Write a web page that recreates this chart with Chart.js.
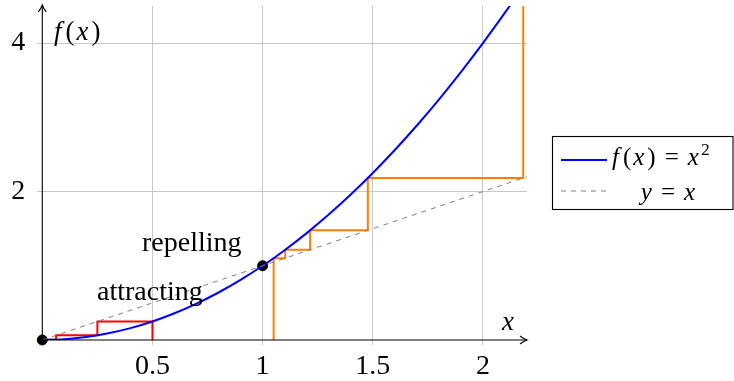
<!DOCTYPE html>
<html>
<head>
<meta charset="utf-8">
<script src="https://cdn.jsdelivr.net/npm/chart.js@4"></script>
<style>
  html, body { margin: 0; padding: 0; background: #fff; }
  #wrap { width: 734px; height: 381px; }
</style>
</head>
<body>
<div id="wrap"><canvas id="cobweb" width="734" height="381"></canvas></div>
<script>
// Curve f(x) = x^2
const curveX = [0, 0.1, 0.2, 0.3, 0.4, 0.5, 0.6, 0.7, 0.8, 0.9, 1, 1.1, 1.2, 1.3, 1.4, 1.5, 1.6, 1.7, 1.8, 1.9, 2, 2.1, 2.2];
const curveY = [0, 0.01, 0.04, 0.09, 0.16, 0.25, 0.36, 0.49, 0.64, 0.81, 1, 1.21, 1.44, 1.69, 1.96, 2.25, 2.56, 2.89, 3.24, 3.61, 4, 4.41, 4.84];

// Identity line y = x
const diagX = [0, 2.2];
const diagY = [0, 2.2];

// Cobweb starting at 0.5 (attracting)
const redX = [0.5, 0.5, 0.25, 0.25, 0.0625, 0.0625, 0.004];
const redY = [0, 0.25, 0.25, 0.0625, 0.0625, 0.004, 0.004];

// Cobweb starting at 1.05 (repelling)
const orangeX = [1.05, 1.05, 1.1025, 1.1025, 1.2155, 1.2155, 1.4775, 1.4775, 2.183, 2.183];
const orangeY = [0, 1.1025, 1.1025, 1.2155, 1.2155, 1.4775, 1.4775, 2.183, 2.183, 4.766];

// Fixed points
const fixedX = [0, 1];
const fixedY = [0, 1];

// Tick labels
const xTicks = [0.5, 1, 1.5, 2];
const yTicks = [2, 4];

const FONT = "'Liberation Serif', 'DejaVu Serif', serif";

const toPoints = (xs, ys) => xs.map((x, i) => ({ x: x, y: ys[i] }));

// Draw text made of upright / italic / superscript pieces (gap = extra space after)
function drawRuns(ctx, runs, x, y, size) {
    ctx.textBaseline = "alphabetic";
    ctx.textAlign = "left";
    runs.forEach(r => {
        const s = r.sup ? size * 0.7 : size;
        ctx.font = (r.it ? "italic " : "") + s + "px " + FONT;
        ctx.fillText(r.t, x, r.sup ? y - size * 0.4 : y);
        x += ctx.measureText(r.t).width + (r.gap || 0);
    });
    return x;
}

function runsWidth(ctx, runs, size) {
    let w = 0;
    runs.forEach(r => {
        const s = r.sup ? size * 0.7 : size;
        ctx.font = (r.it ? "italic " : "") + s + "px " + FONT;
        w += ctx.measureText(r.t).width + (r.gap || 0);
    });
    return w;
}

// Axes with arrow heads, labels, legend box
const decorations = {
    id: "decorations",
    afterDatasetsDraw(chart) {
        const ctx = chart.ctx;
        const xs = chart.scales.x;
        const ys = chart.scales.y;
        const x0 = xs.getPixelForValue(0);
        const y0 = ys.getPixelForValue(0);
        const right = xs.right;
        const top = ys.top - 1;

        ctx.save();
        ctx.strokeStyle = "#000";
        ctx.lineWidth = 1.1;
        ctx.beginPath();
        ctx.moveTo(x0, y0);
        ctx.lineTo(right, y0);
        ctx.moveTo(x0, y0);
        ctx.lineTo(x0, top);
        ctx.stroke();

        // arrow heads
        ctx.beginPath();
        ctx.moveTo(right - 7, y0 - 4);
        ctx.quadraticCurveTo(right - 3, y0 - 1, right, y0);
        ctx.quadraticCurveTo(right - 3, y0 + 1, right - 7, y0 + 4);
        ctx.moveTo(x0 - 4, top + 7);
        ctx.quadraticCurveTo(x0 - 1, top + 3, x0, top);
        ctx.quadraticCurveTo(x0 + 1, top + 3, x0 + 4, top + 7);
        ctx.stroke();

        ctx.fillStyle = "#000";
        // axis labels
        drawRuns(ctx, [{ t: "f", it: true, gap: 4 }, { t: "(", gap: 2 }, { t: "x", it: true, gap: 3 }, { t: ")" }], 54, 40, 27);
        drawRuns(ctx, [{ t: "x", it: true }], 502, 330, 27);

        // annotations
        ctx.font = "28px " + FONT;
        ctx.textAlign = "left";
        ctx.fillText("repelling", 142, 251);
        ctx.fillText("attracting", 97, 300);

        // legend
        ctx.lineWidth = 1.1;
        ctx.strokeStyle = "#000";
        ctx.fillStyle = "#fff";
        ctx.fillRect(552, 136, 181, 73);
        ctx.strokeRect(552.5, 136.5, 180.5, 73);

        ctx.strokeStyle = "#0000ff";
        ctx.lineWidth = 2;
        ctx.beginPath();
        ctx.moveTo(561, 160);
        ctx.lineTo(607, 160);
        ctx.stroke();

        ctx.strokeStyle = "#7f7f7f";
        ctx.lineWidth = 1;
        ctx.setLineDash([5, 5]);
        ctx.beginPath();
        ctx.moveTo(561, 191);
        ctx.lineTo(607, 191);
        ctx.stroke();
        ctx.setLineDash([]);

        ctx.fillStyle = "#000";
        const fRuns = [
            { t: "f", it: true, gap: 4 }, { t: "(", gap: 2 }, { t: "x", it: true, gap: 3 }, { t: ")", gap: 9 },
            { t: "=", gap: 9 }, { t: "x", it: true, gap: 2 }, { t: "2", sup: true }
        ];
        drawRuns(ctx, fRuns, 612, 165, 25);
        const yRuns = [{ t: "y", it: true, gap: 9 }, { t: "=", gap: 9 }, { t: "x", it: true }];
        const w = runsWidth(ctx, yRuns, 25);
        drawRuns(ctx, yRuns, 668 - w / 2, 200, 25);
        ctx.restore();
    }
};

new Chart(document.getElementById("cobweb"), {
    type: "line",
    data: {
        datasets: [
            {
                label: "y = x",
                data: toPoints(diagX, diagY),
                borderColor: "#7f7f7f",
                borderWidth: 1,
                borderDash: [5, 5],
                pointRadius: 0
            },
            {
                label: "f(x) = x^2",
                data: toPoints(curveX, curveY),
                borderColor: "#0000ff",
                borderWidth: 2,
                cubicInterpolationMode: "monotone",
                pointRadius: 0
            },
            {
                label: "attracting",
                data: toPoints(redX, redY),
                borderColor: "#ff0000",
                borderWidth: 2,
                pointRadius: 0
            },
            {
                label: "repelling",
                data: toPoints(orangeX, orangeY),
                borderColor: "#ff8000",
                borderWidth: 2,
                pointRadius: 0
            },
            {
                label: "fixed points",
                data: toPoints(fixedX, fixedY),
                showLine: false,
                pointRadius: 5,
                pointBackgroundColor: "#000",
                pointBorderColor: "#000",
                clip: false
            }
        ]
    },
    options: {
        responsive: false,
        animation: false,
        events: [],
        layout: { padding: { left: 0, right: 207, top: 6, bottom: 0 } },
        plugins: {
            legend: { display: false },
            tooltip: { enabled: false }
        },
        scales: {
            x: {
                type: "linear",
                min: 0,
                max: 2.2,
                afterBuildTicks: s => { s.ticks = xTicks.map(v => ({ value: v })); },
                afterFit: s => { s.height = 41; s.paddingLeft = 0; s.paddingRight = 0; },
                border: { display: false },
                grid: { color: "#c8c8c8", lineWidth: 1, tickLength: 5, tickColor: "#c8c8c8" },
                ticks: {
                    color: "#000",
                    font: { family: FONT, size: 28 },
                    padding: 5,
                    maxRotation: 0,
                    callback: v => String(v)
                }
            },
            y: {
                type: "linear",
                min: 0,
                max: 4.5,
                afterBuildTicks: s => { s.ticks = yTicks.map(v => ({ value: v })); },
                afterFit: s => { s.width = 42.3; s.paddingTop = 0; s.paddingBottom = 0; },
                border: { display: false },
                grid: { color: "#c8c8c8", lineWidth: 1, tickLength: 5, tickColor: "#c8c8c8" },
                ticks: {
                    color: "#000",
                    font: { family: FONT, size: 28 },
                    padding: 12,
                    callback: v => String(v)
                }
            }
        }
    },
    plugins: [decorations]
});
</script>
</body>
</html>
